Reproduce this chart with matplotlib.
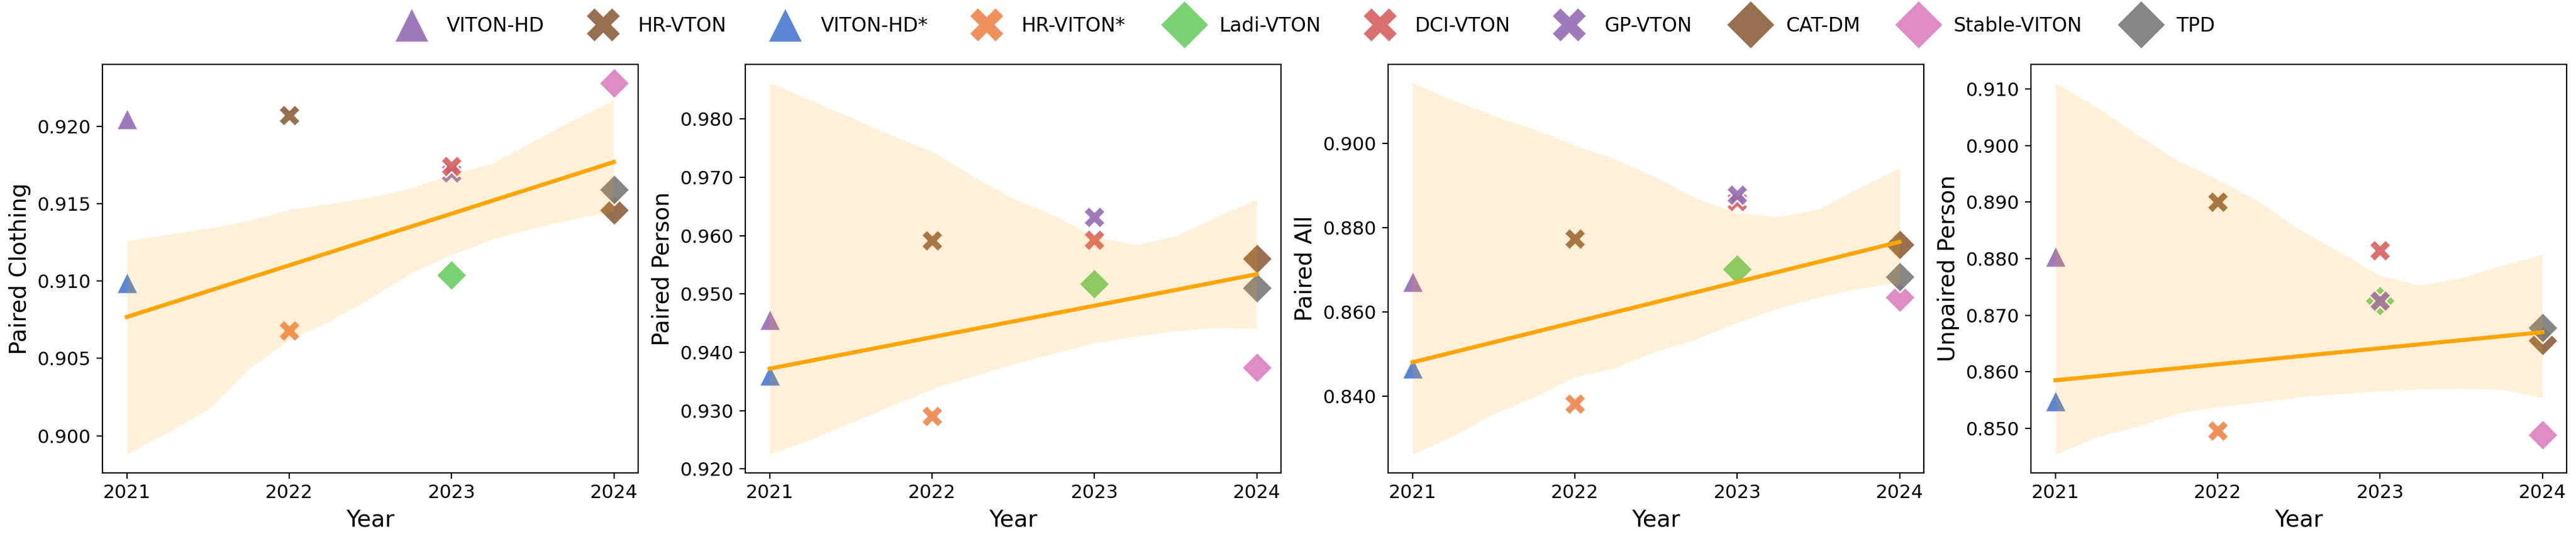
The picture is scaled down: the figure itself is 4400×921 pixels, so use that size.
import numpy as np
import matplotlib
matplotlib.use("Agg")
import matplotlib.pyplot as plt
from matplotlib.lines import Line2D
from matplotlib.ticker import FormatStrFormatter

# ---------------- data ----------------
methods = ["VITON-HD", "HR-VTON", "VITON-HD*", "HR-VITON*", "Ladi-VTON",
           "DCI-VTON", "GP-VTON", "CAT-DM", "Stable-VITON", "TPD"]
years = [2021, 2022, 2021, 2022, 2023, 2023, 2023, 2024, 2024, 2024]
in_fit = [False, False, True, True, True, True, True, True, True, True]

paired_clothing = [0.9205, 0.9207, 0.9099, 0.9068, 0.9104, 0.9174, 0.9170, 0.9146, 0.9228, 0.9159]
paired_person = [0.9456, 0.9592, 0.9361, 0.9291, 0.9517, 0.9593, 0.9632, 0.9561, 0.9374, 0.9510]
paired_all = [0.8672, 0.8774, 0.8467, 0.8383, 0.8702, 0.8862, 0.8878, 0.8760, 0.8635, 0.8683]
unpaired_person = [0.8804, 0.8900, 0.8549, 0.8496, 0.8726, 0.8815, 0.8726, 0.8655, 0.8488, 0.8678]

year_ticks = [2021, 2022, 2023, 2024]

# confidence band
band_years = [2021, 2021.25, 2021.5, 2021.75, 2022, 2022.25, 2022.5,
              2022.75, 2023, 2023.25, 2023.5, 2023.75, 2024]
clothing_lo = [0.8988, 0.9002, 0.9017, 0.9043, 0.9062, 0.9074, 0.9089,
               0.9105, 0.9117, 0.9127, 0.9134, 0.9140, 0.9145]
clothing_hi = [0.9126, 0.9130, 0.9134, 0.9139, 0.9146, 0.9150, 0.9154,
               0.9160, 0.9169, 0.9176, 0.9190, 0.9204, 0.9217]
person_lo = [0.9225, 0.9250, 0.9279, 0.9308, 0.9337, 0.9359, 0.9380,
             0.9398, 0.9416, 0.9427, 0.9437, 0.9442, 0.9441]
person_hi = [0.9862, 0.9833, 0.9803, 0.9772, 0.9745, 0.9702, 0.9664,
             0.9635, 0.9599, 0.9584, 0.9599, 0.9632, 0.9662]
all_lo = [0.8263, 0.8306, 0.8359, 0.8398, 0.8446, 0.8468, 0.8507,
          0.8536, 0.8575, 0.8609, 0.8635, 0.8656, 0.8670]
all_hi = [0.9143, 0.9102, 0.9065, 0.9033, 0.8995, 0.8962, 0.8919,
          0.8869, 0.8835, 0.8826, 0.8844, 0.8893, 0.8941]
unpaired_lo = [0.8454, 0.8484, 0.8503, 0.8526, 0.8538, 0.8546, 0.8555,
               0.8561, 0.8566, 0.8569, 0.8570, 0.8569, 0.8554]
unpaired_hi = [0.9111, 0.9069, 0.9020, 0.8974, 0.8940, 0.8902, 0.8852,
               0.8812, 0.8770, 0.8753, 0.8766, 0.8788, 0.8807]

panel_labels = ["Paired Clothing", "Paired Person", "Paired All", "Unpaired Person"]

# ---------------- styles ----------------
colors = ["#956cb4", "#8c613c", "#4878d0", "#ee854a", "#6acc64",
          "#d65f5f", "#956cb4", "#8c613c", "#dc7ec0", "#797979"]
markers = ["^", "X", "^", "X", "D", "X", "X", "D", "D", "D"]

panels = [
    (panel_labels[0], paired_clothing, clothing_lo, clothing_hi),
    (panel_labels[1], paired_person, person_lo, person_hi),
    (panel_labels[2], paired_all, all_lo, all_hi),
    (panel_labels[3], unpaired_person, unpaired_lo, unpaired_hi),
]

fig, axes = plt.subplots(1, 4, figsize=(22, 4.605), dpi=200)
fig.subplots_adjust(left=0.0398, right=0.9964, bottom=0.1227, top=0.8806, wspace=0.2)

for ax, (label, vals, lo, hi) in zip(axes, panels):
    order = np.argsort(vals, kind="stable")
    for i in order:
        ax.scatter(years[i], vals[i], s=180, marker=markers[i], color=colors[i],
                   alpha=0.9, edgecolors="white", linewidths=1.05, zorder=2)
    ax.fill_between(band_years, lo, hi, color="orange", alpha=0.15,
                    linewidth=0, zorder=3)
    fx = np.array([y for y, f in zip(years, in_fit) if f], dtype=float)
    fy = np.array([v for v, f in zip(vals, in_fit) if f], dtype=float)
    slope, icpt = np.polyfit(fx, fy, 1)
    xl = np.array([fx.min(), fx.max()])
    ax.plot(xl, slope * xl + icpt, color="orange", lw=2.5, zorder=4)
    ax.set_xticks(year_ticks)
    ax.set_xticklabels([str(y) for y in year_ticks])
    ax.yaxis.set_major_formatter(FormatStrFormatter("%.3f"))
    ax.tick_params(labelsize=11.5)
    ax.set_xlabel("Year", fontsize=14)
    ax.set_ylabel(label, fontsize=14)

handles = [Line2D([], [], marker=markers[i], color=colors[i], linestyle="None",
                  markersize=21.5, markeredgecolor="white", markeredgewidth=1,
                  alpha=0.9) for i in range(len(methods))]
fig.legend(handles, methods, loc="center", bbox_to_anchor=(0.506, 0.952),
           ncol=10, frameon=False, fontsize=12)

fig.savefig("out.png", dpi=200)
